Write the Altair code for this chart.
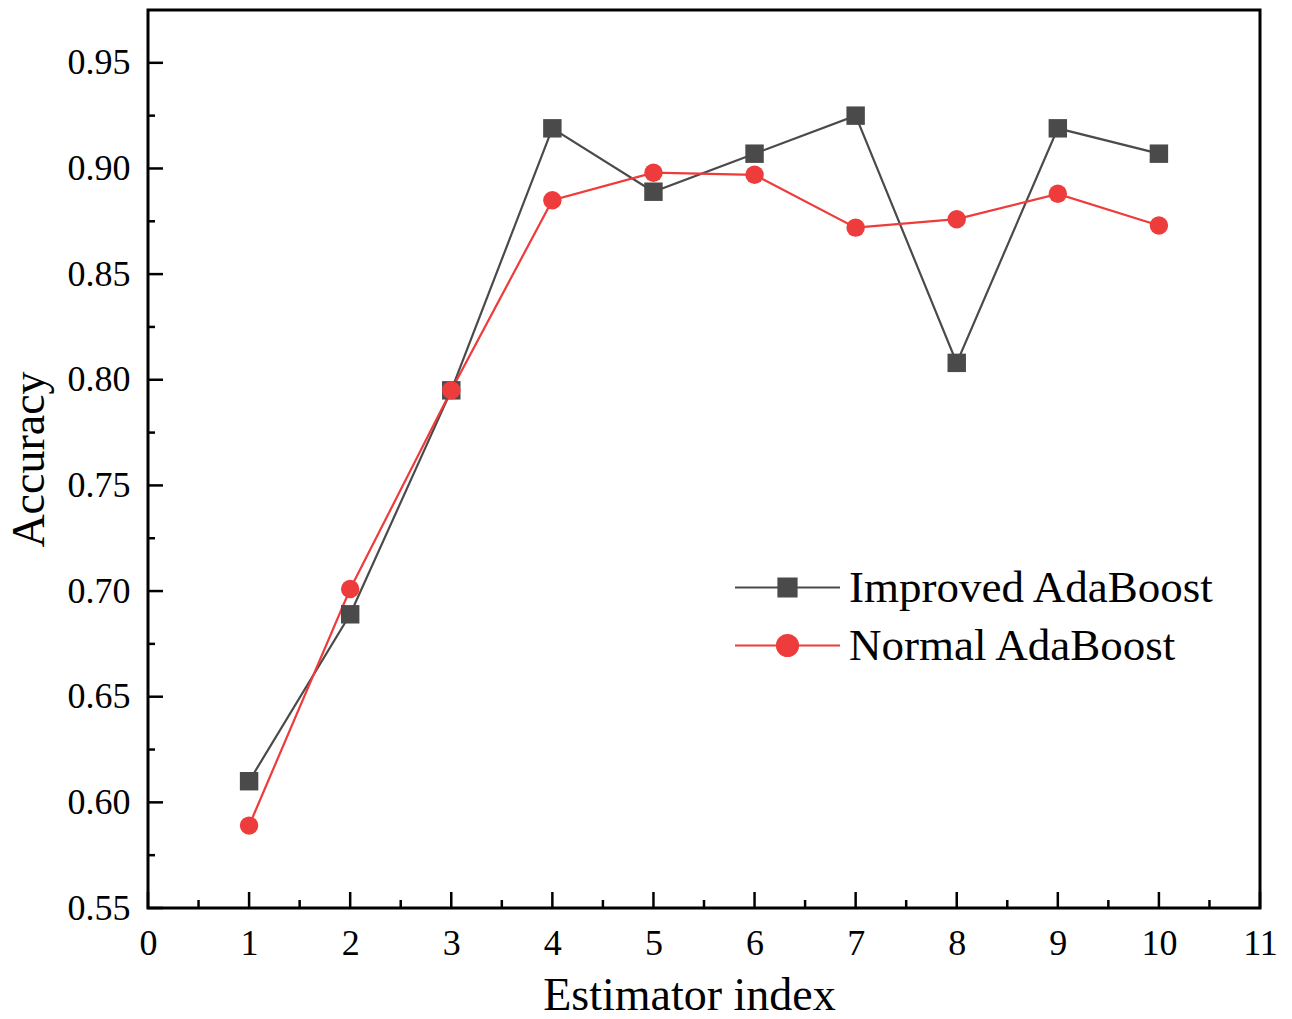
import altair as alt
import pandas as pd

x_index = [1, 2, 3, 4, 5, 6, 7, 8, 9, 10]
improved = [0.610, 0.689, 0.795, 0.919, 0.889, 0.907, 0.925, 0.808, 0.919, 0.907]
normal = [0.589, 0.701, 0.795, 0.885, 0.898, 0.897, 0.872, 0.876, 0.888, 0.873]
series_names = ["Improved AdaBoost", "Normal AdaBoost"]
series_colors = ["#4a4a4a", "#ee3b3b"]
x_major = list(range(0, 12))
x_minor = [i + 0.5 for i in range(0, 11)]
y_major = [0.55, 0.60, 0.65, 0.70, 0.75, 0.80, 0.85, 0.90, 0.95]
y_minor = [0.575, 0.625, 0.675, 0.725, 0.775, 0.825, 0.875, 0.925]

rows = []
for i, xv in enumerate(x_index):
    rows.append({"idx": xv, "acc": improved[i], "series": series_names[0]})
    rows.append({"idx": xv, "acc": normal[i], "series": series_names[1]})
df = pd.DataFrame(rows)

W, H = 1112, 898
FONT = "Liberation Serif"

xscale = alt.Scale(domain=[0, 11], nice=False, zero=False)
yscale = alt.Scale(domain=[0.55, 0.975], nice=False, zero=False)
cscale = alt.Scale(domain=series_names, range=series_colors)

xenc = alt.X("idx:Q", scale=xscale,
             axis=alt.Axis(values=x_major, format="d", title="Estimator index", grid=False,
                           ticks=False, domain=False, labelFont=FONT, labelFontSize=36,
                           labelColor="black", labelPadding=18, titleFont=FONT,
                           titleFontSize=46, titleFontWeight="normal", titleColor="black",
                           titlePadding=12, titleX=541, labelFlush=False))
yenc = alt.Y("acc:Q", scale=yscale,
             axis=alt.Axis(values=y_major, format=".2f", title="Accuracy", grid=False,
                           ticks=False, domain=False, labelFont=FONT, labelFontSize=36,
                           labelColor="black", labelPadding=18, titleFont=FONT,
                           titleFontSize=46, titleFontWeight="normal", titleColor="black",
                           titlePadding=14, labelFlush=False))

base = alt.Chart(df)

lines = base.mark_line(strokeWidth=2.2).encode(
    x=xenc, y=yenc,
    color=alt.Color("series:N", scale=cscale, legend=None),
    detail="series:N",
)

points = base.mark_point(filled=True, opacity=1, size=340).encode(
    x="idx:Q", y="acc:Q",
    color=alt.Color("series:N", scale=cscale, legend=None),
    shape=alt.Shape("series:N", scale=alt.Scale(domain=series_names, range=["square", "circle"]), legend=None),
)

# legend glyphs: a line segment through a marker (unit = sqrt(symbolSize)/2 = 10 px)
sq = "M-5.25,0H5.25M-0.9,-0.9H0.9V0.9H-0.9Z"
ci = "M-5.25,0H5.25M1.05,0A1.05,1.05,0,1,1,-1.05,0A1.05,1.05,0,1,1,1.05,0Z"
leg = alt.Legend(title=None, orient="none", legendX=617, legendY=555,
                 labelFont=FONT, labelFontSize=45, labelColor="black", labelLimit=0,
                 symbolSize=400, symbolStrokeWidth=2.2, symbolOpacity=1,
                 labelOffset=39, rowPadding=12, padding=0)
legend_layer = base.transform_filter("datum.idx < 0").mark_point(filled=False, opacity=1, strokeWidth=2.2).encode(
    x="idx:Q", y="acc:Q",
    color=alt.Color("series:N", scale=cscale, legend=leg),
    fill=alt.Fill("series:N", scale=cscale, legend=leg),
    shape=alt.Shape("series:N", scale=alt.Scale(domain=series_names, range=[sq, ci]), legend=leg),
)

xmaj = alt.Chart(pd.DataFrame({"v": x_major})).mark_rule(color="black", strokeWidth=2.5).encode(
    x=alt.X("v:Q", scale=xscale), y=alt.value(H), y2=alt.value(H - 16))
xmin = alt.Chart(pd.DataFrame({"v": x_minor})).mark_rule(color="black", strokeWidth=2.5).encode(
    x=alt.X("v:Q", scale=xscale), y=alt.value(H), y2=alt.value(H - 8))
ymaj = alt.Chart(pd.DataFrame({"v": y_major})).mark_rule(color="black", strokeWidth=2.5).encode(
    y=alt.Y("v:Q", scale=yscale), x=alt.value(0), x2=alt.value(15))
ymin = alt.Chart(pd.DataFrame({"v": y_minor})).mark_rule(color="black", strokeWidth=2.5).encode(
    y=alt.Y("v:Q", scale=yscale), x=alt.value(0), x2=alt.value(7))

chart = alt.layer(lines, points, legend_layer, xmaj, xmin, ymaj, ymin).resolve_scale(
    shape="independent", color="independent", fill="independent"
).properties(
    width=W, height=H,
    autosize=alt.AutoSizeParams(type="none"),
    padding={"left": 148, "top": 10, "right": 32, "bottom": 111},
).configure(
    background="white",
    view=alt.ViewConfig(stroke="black", strokeWidth=3),
)

chart.save("out.html", embed_options={"renderer": "svg", "actions": False})
